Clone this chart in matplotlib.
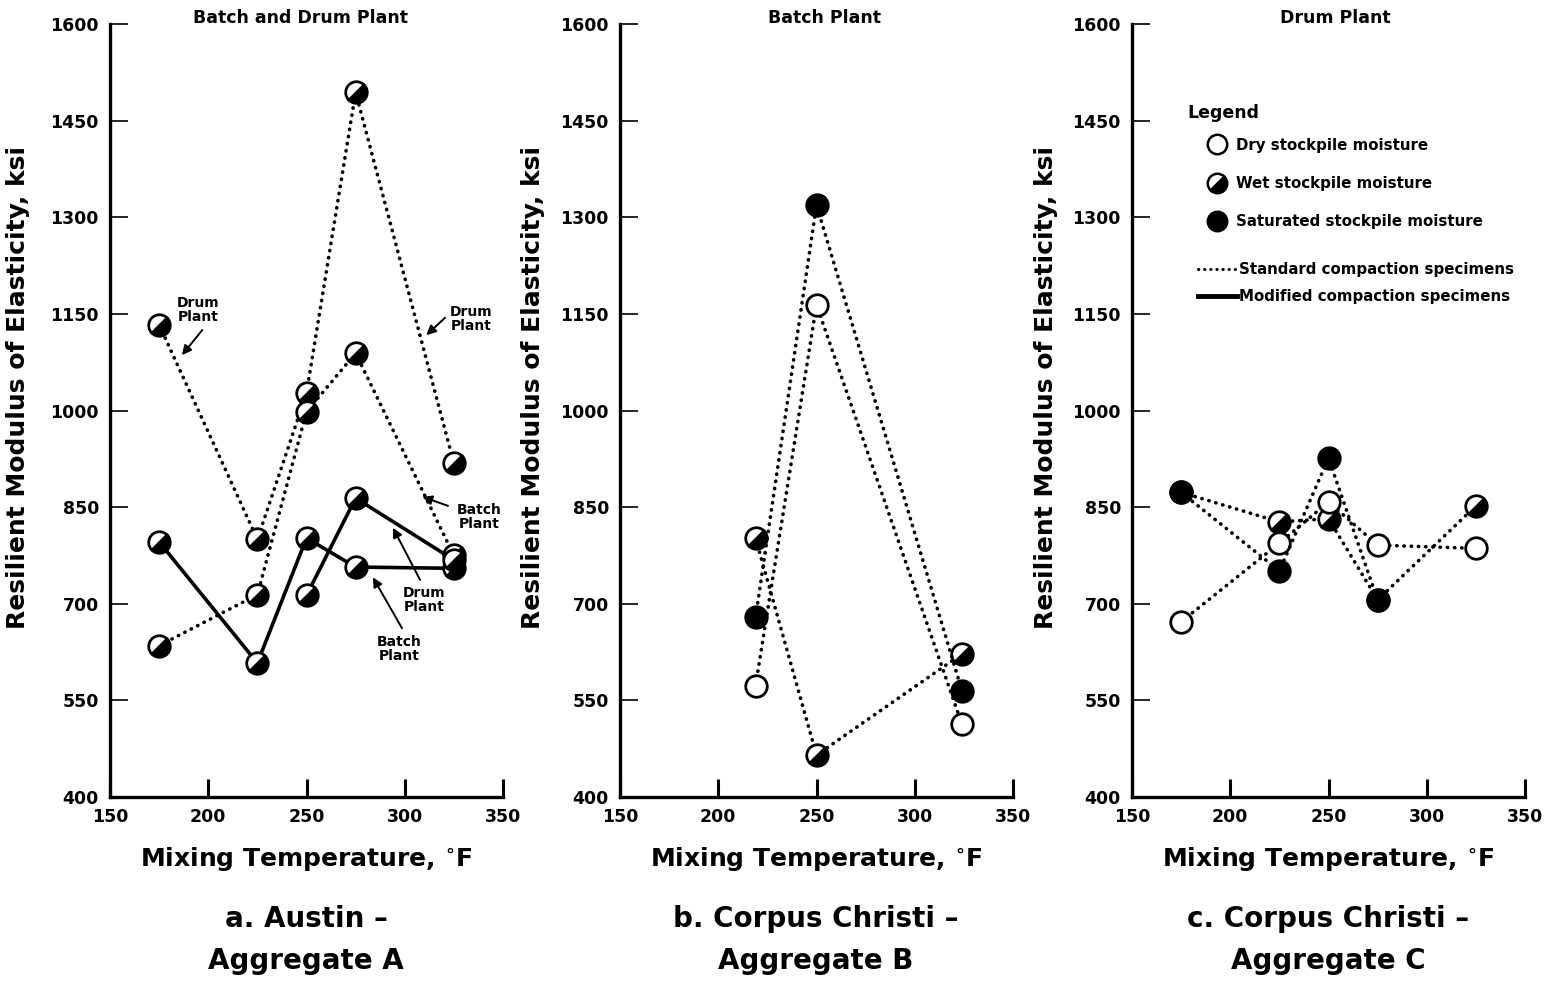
import matplotlib
matplotlib.use("Agg")
import matplotlib.pyplot as plt
from matplotlib.lines import Line2D
from matplotlib.markers import MarkerStyle
from matplotlib.transforms import Affine2D

plt.rcParams['font.family'] = ['DejaVu Sans']
plt.rcParams['font.weight'] = 'bold'
plt.rcParams['mathtext.fontset'] = 'dejavusans'

# ---- data ----
# a. Austin - Aggregate A (all wet stockpile moisture)
temps_a = [175, 225, 250, 275, 325]
drum_std_a = [1133, 800, 1027, 1494, 918]
batch_std_a = [635, 714, 998, 1089, 775]
batch_mod_a = [796, 608, 802, 757, 755]
temps_drum_mod_a = [250, 275, 325]
drum_mod_a = [713, 864, 768]

# b. Corpus Christi - Aggregate B (batch plant, standard compaction)
temps_b = [219, 250, 324]
dry_b = [573, 1164, 513]
wet_b = [802, 465, 622]
sat_b = [679, 1319, 565]

# c. Corpus Christi - Aggregate C (drum plant, standard compaction)
temps_c = [175, 225, 250, 275, 325]
dry_c = [672, 794, 858, 791, 786]
wet_c = [873, 827, 832, 706, 852]
temps_sat_c = [175, 225, 250, 275]
sat_c = [873, 751, 926, 706]

xticks = [150, 200, 250, 300, 350]
yticks = [400, 550, 700, 850, 1000, 1150, 1300, 1450, 1600]
titles = ['Batch and Drum Plant', 'Batch Plant', 'Drum Plant']
captions = ['a. Austin \u2013\nAggregate A',
            'b. Corpus Christi \u2013\nAggregate B',
            'c. Corpus Christi \u2013\nAggregate C']

# ---- marker / line styles ----
wet_marker = MarkerStyle('o', fillstyle='bottom',
                         transform=Affine2D().rotate_deg(45))
DOT = (0, (0.1, 1.9))
MS = 15.5
MEW = 2.0

style = {
    'dry': dict(marker='o', mfc='white'),
    'wet': dict(marker=wet_marker, mfc='black', mfcalt='white'),
    'sat': dict(marker='o', mfc='black'),
}


def series(ax, x, y, kind, ls, z=3):
    ax.plot(x, y, color='black', ls=ls, lw=2.6, dash_capstyle='round',
            ms=MS, mew=MEW, mec='black', zorder=z, clip_on=False,
            **style[kind])


fig = plt.figure(figsize=(15.52, 9.82), dpi=100)
lefts = [110, 620, 1132]
ylab_x = [-0.204, -0.191, -0.188]
title_x = [0.486, 0.52, 0.517]
axes = []
for i, l in enumerate(lefts):
    ax = fig.add_axes([l / 1552, (982 - 797) / 982, 393 / 1552, 773 / 982])
    ax.set_xlim(150, 350)
    ax.set_ylim(400, 1600)
    ax.set_xticks(xticks)
    ax.set_yticks(yticks)
    for s in ['top', 'right']:
        ax.spines[s].set_visible(False)
    for s in ['left', 'bottom']:
        ax.spines[s].set_linewidth(2.4)
    ax.tick_params(axis='x', direction='in', length=13, width=2.2,
                   labelsize=12.5, pad=8)
    ax.tick_params(axis='y', direction='in', length=13, width=1.2,
                   labelsize=12.5, pad=8)
    for lab in ax.get_xticklabels() + ax.get_yticklabels():
        lab.set_fontweight('bold')
    ax.set_ylabel('Resilient Modulus of Elasticity, ksi', fontsize=18,
                  fontweight='bold')
    ax.yaxis.set_label_coords(ylab_x[i], 0.53)
    ax.set_xlabel('Mixing Temperature, $^{\\circ}$F', fontsize=18,
                  fontweight='bold')
    ax.xaxis.set_label_coords(0.5, -0.062)
    ax.text(title_x[i], 1.008, titles[i], transform=ax.transAxes,
            ha='center', va='center', fontsize=12.5, fontweight='bold')
    fig.text((l + 196) / 1552, 1 - 940 / 982, captions[i], ha='center',
             va='center', fontsize=20, fontweight='bold', linespacing=1.6)
    axes.append(ax)

ax1, ax2, ax3 = axes

# panel a
series(ax1, temps_a, drum_std_a, 'wet', DOT)
series(ax1, temps_a, batch_std_a, 'wet', DOT)
series(ax1, temps_a, batch_mod_a, 'wet', '-')
series(ax1, temps_drum_mod_a, drum_mod_a, 'wet', '-')

notes_a = [
    ('Drum\nPlant', (195, 1156), (186.6, 1086), (197, 1125)),
    ('Drum\nPlant', (334, 1142), (311, 1117), (320.5, 1144)),
    ('Batch\nPlant', (338, 835), (309, 866), (322, 852)),
    ('Drum\nPlant', (310, 706), (294, 818), (307.8, 737)),
    ('Batch\nPlant', (297, 630), (283.8, 741), (298.6, 662)),
]
for txt, pos, head, tail in notes_a:
    ax1.text(pos[0], pos[1], txt, ha='center', va='center', fontsize=10,
             fontweight='bold', linespacing=1.05)
    ax1.annotate('', xy=head, xytext=tail,
                 arrowprops=dict(arrowstyle='-|>', lw=1.4, color='black',
                                 mutation_scale=14, shrinkA=0, shrinkB=0))

# panel b
series(ax2, temps_b, wet_b, 'wet', DOT)
series(ax2, temps_b, sat_b, 'sat', DOT)
series(ax2, temps_b, dry_b, 'dry', DOT)

# panel c
series(ax3, temps_c, wet_c, 'wet', DOT, z=3)
series(ax3, temps_c, dry_c, 'dry', DOT, z=3)
series(ax3, temps_sat_c, sat_c, 'sat', DOT, z=4)

# legend in panel c
ax3.text(0.142, 0.885, 'Legend', transform=ax3.transAxes, fontsize=12.5,
         fontweight='bold', va='center', ha='left')
mk_handles = [Line2D([], [], ls='none', ms=14, mew=1.8, mec='black',
                     **style[k]) for k in ['dry', 'wet', 'sat']]
mk_labels = ['Dry stockpile moisture', 'Wet stockpile moisture',
             'Saturated stockpile moisture']
leg1 = ax3.legend(mk_handles, mk_labels, loc='upper left',
                  bbox_to_anchor=(0.185, 0.853), frameon=False,
                  prop=dict(size=10.8, weight='bold'), borderpad=0,
                  borderaxespad=0, handlelength=1.6, handletextpad=0.5,
                  labelspacing=1.55)
ax3.add_artist(leg1)
ln_handles = [Line2D([], [], color='black', ls=DOT, lw=2.2,
                     dash_capstyle='round'),
              Line2D([], [], color='black', ls='-', lw=3.5)]
ln_labels = ['Standard compaction specimens', 'Modified compaction specimens']
ax3.legend(ln_handles, ln_labels, loc='upper left',
           bbox_to_anchor=(0.168, 0.692), frameon=False,
           prop=dict(size=10.8, weight='bold'), borderpad=0,
           borderaxespad=0, handlelength=2.6, handletextpad=0.15,
           labelspacing=0.8)

fig.savefig('out.png', dpi=100)
